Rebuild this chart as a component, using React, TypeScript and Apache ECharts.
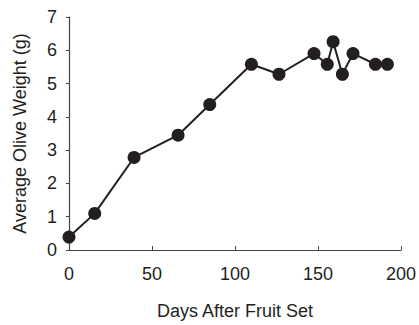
import React, { useEffect, useRef } from "react";
import * as echarts from "echarts";

const days = [0, 15.5, 39.2, 65.7, 84.8, 109.9, 126.5, 147.6, 155.6, 159.1, 164.7, 171.1, 184.6, 191.8];
const weights = [0.39, 1.1, 2.78, 3.45, 4.37, 5.58, 5.28, 5.9, 5.58, 6.26, 5.28, 5.9, 5.58, 5.58];
const xTicks = [0, 50, 100, 150, 200];
const yTicks = [0, 1, 2, 3, 4, 5, 6, 7];

export default function App() {
  const ref = useRef<HTMLDivElement>(null);
  useEffect(() => {
    const chart = echarts.init(ref.current!, null, { renderer: "svg" });
    const font = "Liberation Sans, Arial, sans-serif";
    chart.setOption({
      animation: false,
      backgroundColor: "#ffffff",
      grid: { left: 69, right: 18, top: 17, bottom: 69, containLabel: false },
      xAxis: {
        type: "value",
        min: xTicks[0],
        max: xTicks[xTicks.length - 1],
        interval: 50,
        name: "Days After Fruit Set",
        nameLocation: "middle",
        nameGap: 52,
        nameTextStyle: { fontFamily: font, fontSize: 18, color: "#231f20" },
        axisLine: { lineStyle: { color: "#444", width: 1.2 } },
        axisTick: { inside: true, length: 4, lineStyle: { color: "#444" } },
        axisLabel: { fontFamily: font, fontSize: 18, color: "#231f20", margin: 15 },
        splitLine: { show: false },
      },
      yAxis: {
        type: "value",
        min: yTicks[0],
        max: yTicks[yTicks.length - 1],
        interval: 1,
        name: "Average Olive Weight (g)",
        nameLocation: "middle",
        nameGap: 40,
        nameTextStyle: { fontFamily: font, fontSize: 18, color: "#231f20" },
        axisLine: { show: true, lineStyle: { color: "#444", width: 1.2 } },
        axisTick: { show: true, length: 3, lineStyle: { color: "#444" } },
        axisLabel: { fontFamily: font, fontSize: 18, color: "#231f20", margin: 12 },
        splitLine: { show: false },
      },
      series: [
        {
          type: "line",
          data: days.map((d, i) => [d, weights[i]]),
          symbol: "circle",
          symbolSize: 13,
          lineStyle: { color: "#231f20", width: 2 },
          itemStyle: { color: "#231f20" },
          clip: false,
        },
      ],
    });
    return () => chart.dispose();
  }, []);
  return <div ref={ref} style={{ width: 419, height: 325, position: "absolute", left: 0, top: 0 }} />;
}
